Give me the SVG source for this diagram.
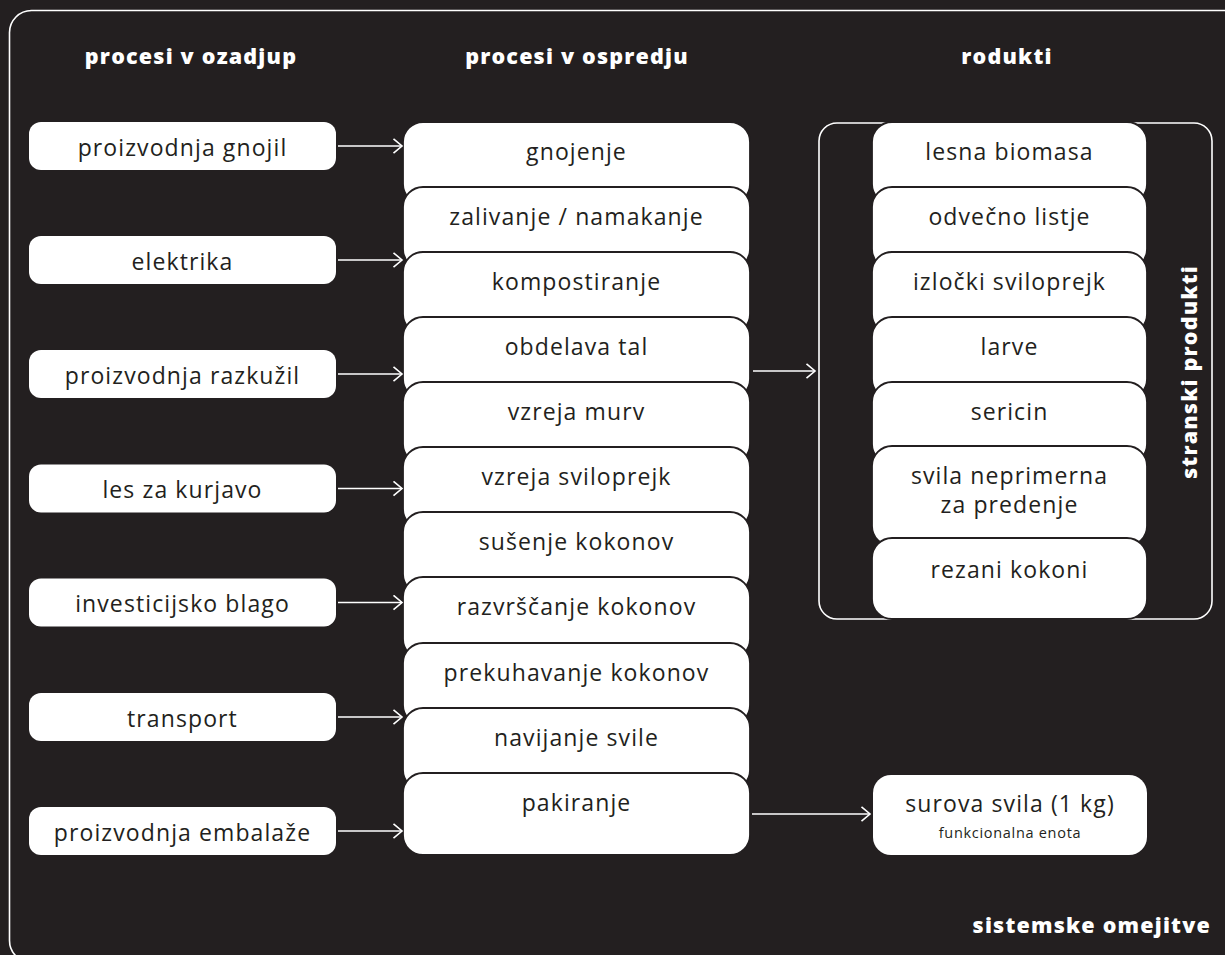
<svg xmlns="http://www.w3.org/2000/svg" width="1225" height="955" viewBox="0 0 1225 955">
<defs>
<style>
.bg{fill:#231f20}
.frame{fill:none;stroke:#ffffff;stroke-width:1.6}
.lbox{fill:#ffffff}
.card{fill:#ffffff;stroke:#231f20;stroke-width:1.8}
.t{font-family:"Open Sans","DejaVu Sans",sans-serif;font-size:23px;letter-spacing:1.1px;fill:#231f20;text-anchor:middle}
.ts{font-family:"Open Sans","DejaVu Sans",sans-serif;font-size:14.5px;letter-spacing:0.7px;fill:#231f20;text-anchor:middle}
.h{font-family:"Open Sans","DejaVu Sans",sans-serif;font-size:21.5px;letter-spacing:1.2px;font-weight:800;fill:#ffffff;text-anchor:middle}
.conn{stroke:#ffffff;stroke-width:1.6;fill:none}
</style>
<marker id="arr" markerUnits="userSpaceOnUse" markerWidth="14" markerHeight="20" refX="10" refY="8" orient="auto">
<path d="M1.5,0.8 L10,8 L1.5,15.2" fill="none" stroke="#ffffff" stroke-width="1.6"/>
</marker>
</defs>
<rect class="bg" x="0" y="0" width="1225" height="955"/>
<rect class="frame" x="9.5" y="10.5" width="1240" height="952" rx="22"/>

<g id="headers">
<text class="h" x="191" y="64">procesi v ozadjup</text>
<text class="h" x="577" y="64">procesi v ospredju</text>
<text class="h" x="1007" y="64">rodukti</text>
<text class="h" x="1211" y="933" style="text-anchor:end">sistemske omejitve</text>
</g>

<g id="background-processes">
<g id="bp1"><rect class="lbox" x="29" y="122" width="307" height="48" rx="12"/><text class="t" x="182.5" y="155.5">proizvodnja gnojil</text></g>
<g id="bp2"><rect class="lbox" x="29" y="236" width="307" height="48" rx="12"/><text class="t" x="182.5" y="269.5">elektrika</text></g>
<g id="bp3"><rect class="lbox" x="29" y="350" width="307" height="48" rx="12"/><text class="t" x="182.5" y="383.5">proizvodnja razkužil</text></g>
<g id="bp4"><rect class="lbox" x="29" y="464.5" width="307" height="48" rx="12"/><text class="t" x="182.5" y="498">les za kurjavo</text></g>
<g id="bp5"><rect class="lbox" x="29" y="578.5" width="307" height="48" rx="12"/><text class="t" x="182.5" y="612">investicijsko blago</text></g>
<g id="bp6"><rect class="lbox" x="29" y="693" width="307" height="48" rx="12"/><text class="t" x="182.5" y="726.5">transport</text></g>
<g id="bp7"><rect class="lbox" x="29" y="807" width="307" height="48" rx="12"/><text class="t" x="182.5" y="840.5">proizvodnja embalaže</text></g>
</g>

<g id="foreground-processes">
<g id="fp1"><rect class="card" x="403" y="122" width="347" height="82" rx="20"/><text class="t" x="576.5" y="160">gnojenje</text></g>
<g id="fp2"><rect class="card" x="403" y="187" width="347" height="82" rx="20"/><text class="t" x="576.5" y="225">zalivanje / namakanje</text></g>
<g id="fp3"><rect class="card" x="403" y="252" width="347" height="82" rx="20"/><text class="t" x="576.5" y="290">kompostiranje</text></g>
<g id="fp4"><rect class="card" x="403" y="317" width="347" height="82" rx="20"/><text class="t" x="576.5" y="355">obdelava tal</text></g>
<g id="fp5"><rect class="card" x="403" y="382" width="347" height="82" rx="20"/><text class="t" x="576.5" y="420">vzreja murv</text></g>
<g id="fp6"><rect class="card" x="403" y="447" width="347" height="82" rx="20"/><text class="t" x="576.5" y="485">vzreja sviloprejk</text></g>
<g id="fp7"><rect class="card" x="403" y="512" width="347" height="82" rx="20"/><text class="t" x="576.5" y="550">sušenje kokonov</text></g>
<g id="fp8"><rect class="card" x="403" y="577" width="347" height="82" rx="20"/><text class="t" x="576.5" y="615">razvrščanje kokonov</text></g>
<g id="fp9"><rect class="card" x="403" y="643" width="347" height="82" rx="20"/><text class="t" x="576.5" y="681">prekuhavanje kokonov</text></g>
<g id="fp10"><rect class="card" x="403" y="708" width="347" height="82" rx="20"/><text class="t" x="576.5" y="746">navijanje svile</text></g>
<g id="fp11"><rect class="card" x="403" y="773" width="347" height="82" rx="20"/><text class="t" x="576.5" y="811">pakiranje</text></g>
</g>

<g id="by-products">
<rect class="frame" x="819" y="123" width="393" height="496" rx="18"/>
<g id="pr1"><rect class="card" x="872" y="122" width="275" height="82" rx="20"/><text class="t" x="1009.5" y="160">lesna biomasa</text></g>
<g id="pr2"><rect class="card" x="872" y="187" width="275" height="82" rx="20"/><text class="t" x="1009.5" y="225">odvečno listje</text></g>
<g id="pr3"><rect class="card" x="872" y="252" width="275" height="82" rx="20"/><text class="t" x="1009.5" y="290">izločki sviloprejk</text></g>
<g id="pr4"><rect class="card" x="872" y="317" width="275" height="82" rx="20"/><text class="t" x="1009.5" y="355">larve</text></g>
<g id="pr5"><rect class="card" x="872" y="382" width="275" height="82" rx="20"/><text class="t" x="1009.5" y="420">sericin</text></g>
<g id="pr6"><rect class="card" x="872" y="446" width="275" height="100" rx="20"/><text class="t" x="1009.5" y="484">svila neprimerna</text><text class="t" x="1009.5" y="513">za predenje</text></g>
<g id="pr7"><rect class="card" x="872" y="538" width="275" height="81" rx="20"/><text class="t" x="1009.5" y="578">rezani kokoni</text></g>
<text class="h" transform="translate(1197,372) rotate(-90)">stranski produkti</text>
</g>

<g id="product">
<rect class="lbox" x="873" y="775" width="274" height="80" rx="18"/>
<text class="t" x="1010" y="812">surova svila (1 kg)</text>
<text class="ts" x="1010" y="838">funkcionalna enota</text>
</g>

<g id="connectors">
<line class="conn" x1="338" y1="146" x2="402" y2="146" marker-end="url(#arr)"/>
<line class="conn" x1="338" y1="260" x2="402" y2="260" marker-end="url(#arr)"/>
<line class="conn" x1="338" y1="374" x2="402" y2="374" marker-end="url(#arr)"/>
<line class="conn" x1="338" y1="488.5" x2="402" y2="488.5" marker-end="url(#arr)"/>
<line class="conn" x1="338" y1="602.5" x2="402" y2="602.5" marker-end="url(#arr)"/>
<line class="conn" x1="338" y1="717" x2="402" y2="717" marker-end="url(#arr)"/>
<line class="conn" x1="338" y1="831" x2="402" y2="831" marker-end="url(#arr)"/>
<line class="conn" x1="753" y1="371" x2="815" y2="371" marker-end="url(#arr)"/>
<line class="conn" x1="752" y1="814" x2="870" y2="814" marker-end="url(#arr)"/>
</g>
</svg>
